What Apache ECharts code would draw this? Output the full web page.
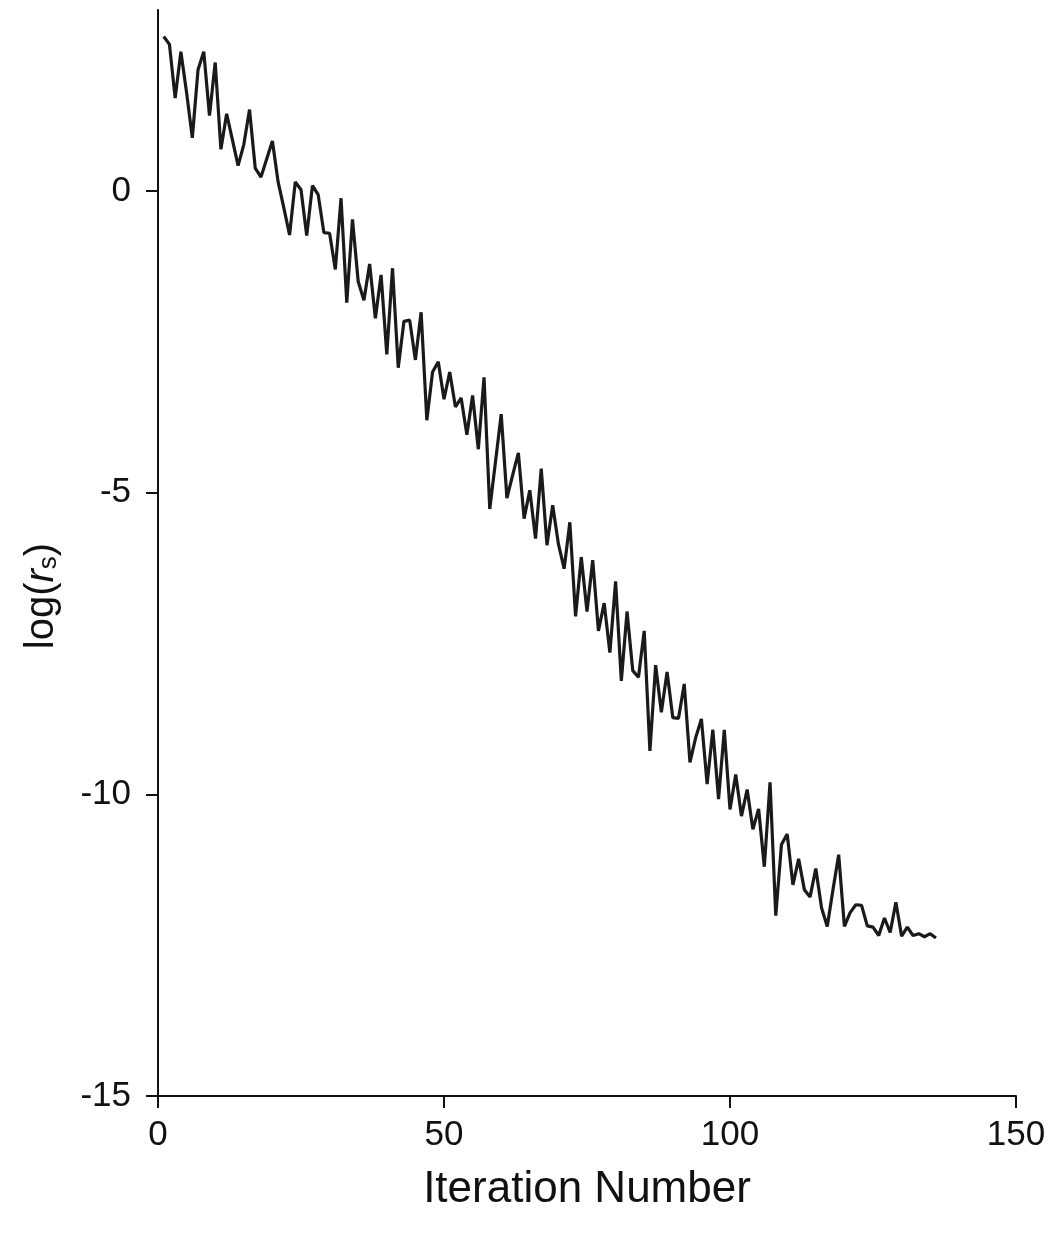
<!DOCTYPE html>
<html>
<head>
<meta charset="utf-8">
<title>log(rs) vs iteration</title>
<script src="https://cdn.jsdelivr.net/npm/echarts@6/dist/echarts.min.js"></script>
<style>
    html, body { margin: 0; padding: 0; background: #fff; }
    #chart { width: 1060px; height: 1242px; }
</style>
</head>
<body>
<div id="chart"></div>
<script>
// iterations 1..136 and the residual
var iterations = [];
for (var k = 1; k <= 136; k++) iterations.push(k);

var logRs = [
    2.56, 2.43, 1.54, 2.31, 1.63, 0.88, 2.01, 2.31, 1.25, 2.13,
    0.69, 1.28, 0.85, 0.42, 0.77, 1.35, 0.38, 0.23, 0.53, 0.83,
    0.15, -0.28, -0.73, 0.15, 0.02, -0.74, 0.09, -0.06, -0.69, -0.70,
    -1.30, -0.12, -1.85, -0.47, -1.50, -1.81, -1.21, -2.11, -1.39, -2.71,
    -1.28, -2.93, -2.16, -2.14, -2.80, -2.01, -3.80, -3.00, -2.83, -3.45,
    -3.00, -3.58, -3.43, -4.04, -3.39, -4.28, -3.09, -5.27, -4.49, -3.70,
    -5.09, -4.71, -4.34, -5.43, -4.96, -5.76, -4.60, -5.87, -5.21, -5.85,
    -6.26, -5.49, -7.05, -6.07, -6.97, -6.12, -7.29, -6.83, -7.65, -6.47,
    -8.12, -6.97, -7.95, -8.06, -7.29, -9.28, -7.86, -8.64, -7.97, -8.73,
    -8.74, -8.17, -9.47, -9.06, -8.75, -9.83, -8.93, -10.08, -8.93, -10.25,
    -9.67, -10.36, -9.92, -10.58, -10.24, -11.20, -9.80, -12.01, -10.83, -10.66,
    -11.50, -11.07, -11.58, -11.70, -11.23, -11.88, -12.19, -11.58, -11.00, -12.19,
    -11.96, -11.83, -11.84, -12.18, -12.20, -12.34, -12.05, -12.29, -11.79, -12.35,
    -12.20, -12.34, -12.31, -12.36, -12.31, -12.38
];

var yTicks = [-15, -10, -5, 0];

var lineData = [];
for (var n = 0; n < iterations.length; n++) {
    lineData.push([iterations[n], logRs[n]]);
}

var font = "Liberation Sans, Arial, sans-serif";
var chart = echarts.init(document.getElementById("chart"));
var option = {
    animation: false,
    grid: {
        left: 158,
        right: 44,
        top: 10,
        bottom: 146
    },
    xAxis: {
        type: 'value',
        min: 0,
        max: 150,
        interval: 50,
        name: 'Iteration Number',
        nameLocation: 'middle',
        nameGap: 72,
        nameTextStyle: { fontFamily: font, fontSize: 44, color: '#111' },
        axisLine: { show: true, onZero: false, lineStyle: { color: '#111', width: 2 } },
        axisTick: { show: true, length: 12, lineStyle: { color: '#111', width: 2 } },
        axisLabel: { margin: 22, fontFamily: font, fontSize: 35, color: '#111' },
        splitLine: { show: false }
    },
    yAxis: {
        type: 'value',
        min: -15,
        max: 3,
        name: '{a|log(}{i|r}{s|s}{a|)}',
        nameLocation: 'middle',
        nameGap: 96,
        nameRotate: 90,
        nameTextStyle: {
            fontFamily: font,
            color: '#111',
            padding: [0, 86, 0, 0],
            rich: {
                a: { fontFamily: font, fontSize: 40, color: '#111' },
                i: { fontFamily: font, fontSize: 40, fontStyle: 'italic', color: '#111' },
                s: { fontFamily: font, fontSize: 26, color: '#111', verticalAlign: 'bottom', padding: [14, 0, 0, 0] }
            }
        },
        axisLine: { show: true, onZero: false, lineStyle: { color: '#111', width: 2 } },
        axisTick: { show: true, length: 12, customValues: yTicks, lineStyle: { color: '#111', width: 2 } },
        axisLabel: { margin: 27, fontFamily: font, fontSize: 35, color: '#111', customValues: yTicks },
        splitLine: { show: false }
    },
    series: [{
        type: 'line',
        data: lineData,
        showSymbol: false,
        symbol: 'none',
        lineStyle: { color: '#1a1a1a', width: 3.2 }
    }]
};
chart.setOption(option);
</script>
</body>
</html>
